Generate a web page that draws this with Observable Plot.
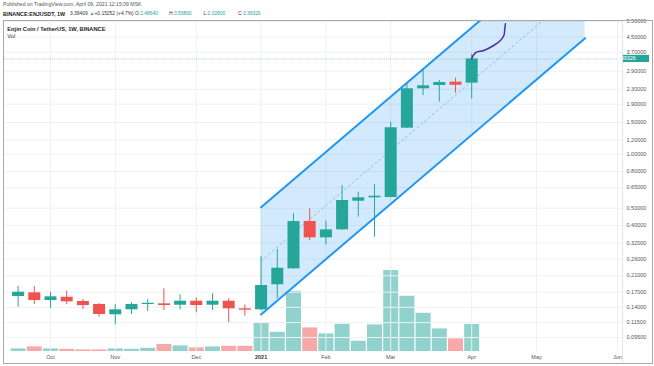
<!DOCTYPE html>
<html><head><meta charset="utf-8">
<script src="https://cdn.jsdelivr.net/npm/d3@7"></script>
<script src="https://cdn.jsdelivr.net/npm/@observablehq/plot@0.6"></script>
<style>
html,body{margin:0;padding:0;background:#fff;}
#wrap{position:relative;width:654px;height:366px;overflow:hidden;font-family:"Liberation Sans",Arial,sans-serif;}
#plots svg{position:absolute;left:0;top:0;}
.t{position:absolute;white-space:nowrap;line-height:1;}
.teal{color:#26a69a}
</style></head><body>
<div id="wrap">
  <div id="plots"></div>
  <div class="t" style="left:3px;top:2.4px;font-size:5.15px;color:#555">Published on TradingView.com, April 09, 2021 12:15:09 MSK</div>
  <div class="t" style="left:3px;top:12px;font-size:5.4px;color:#222;font-weight:bold">BINANCE:ENJUSDT, 1W</div>
  <div class="t" style="left:70px;top:12.2px;font-size:4.9px;color:#333">3.39409</div>
  <div class="t teal" style="left:89.5px;top:12.2px;font-size:4.9px">▲</div>
  <div class="t" style="left:94.5px;top:12.2px;font-size:4.9px;color:#333">+0.15252 (+4.7%)</div>
  <div class="t" style="left:135px;top:12.2px;font-size:4.9px;color:#333">O:<span class="teal">2.48640</span></div>
  <div class="t" style="left:169px;top:12.2px;font-size:4.9px;color:#333">H:<span class="teal">3.59800</span></div>
  <div class="t" style="left:203.5px;top:12.2px;font-size:4.9px;color:#333">L:<span class="teal">2.02800</span></div>
  <div class="t" style="left:238px;top:12.2px;font-size:4.9px;color:#333">C:<span class="teal">3.39326</span></div>
  <div style="position:absolute;left:3px;top:20px;width:648px;height:342px;border:1px solid #a8a8a8"></div>
  <div style="position:absolute;left:622px;top:21px;width:1px;height:342px;background:#e3e3e3"></div>
  <div class="t" style="left:7.3px;top:26.5px;font-size:5.7px;color:#222;font-weight:bold">Enjin Coin / TetherUS, 1W, BINANCE</div>
  <div class="t" style="left:7.3px;top:33.9px;font-size:5.7px;color:#333">Vol</div>
</div>
<script>
const weeks = ["2020-09-21","2020-09-28","2020-10-05","2020-10-12","2020-10-19","2020-10-26","2020-11-02","2020-11-09","2020-11-16","2020-11-23","2020-11-30","2020-12-07","2020-12-14","2020-12-21","2020-12-28","2021-01-04","2021-01-11","2021-01-18","2021-01-25","2021-02-01","2021-02-08","2021-02-15","2021-02-22","2021-03-01","2021-03-08","2021-03-15","2021-03-22","2021-03-29","2021-04-05"];
const open  = [0.1608,0.1686,0.1527,0.1593,0.1508,0.1451,0.1272,0.1356,0.1451,0.1464,0.1438,0.1514,0.1438,0.1514,0.1373,0.1356,0.1869,0.2294,0.4211,0.3416,0.3785,0.5464,0.5709,0.574,1.395,2.313,2.413,2.52,2.4864];
const high  = [0.1828,0.1828,0.1699,0.1721,0.1547,0.1469,0.1445,0.1483,0.1547,0.1775,0.1644,0.1581,0.1665,0.1561,0.1445,0.2687,0.2940,0.4648,0.4957,0.4227,0.6684,0.6133,0.6771,1.506,2.466,2.952,2.573,2.650,3.598];
const low   = [0.1402,0.1451,0.1384,0.1445,0.1361,0.1233,0.1118,0.1277,0.1327,0.1344,0.1356,0.1304,0.1344,0.1147,0.1248,0.1344,0.1561,0.2280,0.3299,0.3122,0.3751,0.4450,0.3442,0.570,1.390,2.122,1.947,2.186,2.028];
const close = [0.1699,0.1527,0.1602,0.1502,0.1432,0.1277,0.1356,0.1451,0.1475,0.1432,0.1514,0.1432,0.1514,0.1373,0.1349,0.1852,0.2312,0.4211,0.3416,0.3785,0.5514,0.5709,0.5826,1.402,2.313,2.404,2.508,2.42,3.39326];
const volume = [13,23,13,11,8,8,13,11,16,35,28,18,23,26,26,143,96,301,118,88,136,51,133,405,276,191,113,63,135];

const yTicks = [5.5,4.5,3.7,2.9,2.3,1.9,1.5,1.2,1.0,0.8,0.65,0.5,0.4,0.32,0.26,0.21,0.17,0.14,0.115,0.095];
const monthDates = ["2020-10-05","2020-11-02","2020-12-07","2021-01-04","2021-02-01","2021-03-01","2021-04-05","2021-05-03","2021-06-07"];
const monthLabels = ["Oct","Nov","Dec","2021","Feb","Mar","Apr","May","Jun"];

const channelDates = ["2021-01-04","2021-05-24"];
const channelLower = [0.1277, 4.429];
const channelMid   = [0.2541, 8.815];
const channelUpper = [0.5058, 17.54];

const pathDates  = ["2021-04-05T00:00:00Z","2021-04-06T14:00:00Z","2021-04-10T05:00:00Z","2021-04-14T12:00:00Z","2021-04-17T10:00:00Z","2021-04-18T22:00:00Z","2021-04-19T07:00:00Z","2021-04-19T14:00:00Z"];
const pathPrices = [3.40, 3.672, 3.782, 4.032, 4.300, 4.585, 4.99, 5.33];

const lastPrice = 3.39326;

const GREEN = "#26a69a", RED = "#ef5350", VGREEN = "#92d2cc", VRED = "#f7a9a7";
const parse = s => new Date(s.length === 10 ? s + "T00:00:00Z" : s);

const candles = weeks.map((w, i) => ({date: parse(w), open: open[i], high: high[i], low: low[i], close: close[i], volume: volume[i], up: close[i] >= open[i]}));
const channel = channelDates.map((d, i) => ({date: parse(d), lower: channelLower[i], mid: channelMid[i], upper: channelUpper[i]}));
const path = pathDates.map((d, i) => ({date: parse(d), price: pathPrices[i]}));
const monthTicks = monthDates.map(parse);
const labelByTime = new Map(monthTicks.map((d, i) => [+d, monthLabels[i]]));
const fmt = d3.format(".5f");

const xDomain = [parse("2020-09-15T03:00:00Z"), parse("2021-06-09T04:00:00Z")];
const common = {width: 654, height: 366, marginLeft: 4, marginRight: 32, marginTop: 21, marginBottom: 15};

const priceChart = Plot.plot({
  ...common,
  style: {background: "transparent", fontFamily: "Liberation Sans, Arial, sans-serif", fontSize: "5.5px", color: "#555", overflow: "visible"},
  x: {type: "utc", domain: xDomain, ticks: monthTicks, tickFormat: d => labelByTime.get(+d), tickSize: 0, tickPadding: 3.5, label: null},
  y: {type: "log", domain: [0.0794, 5.487], axis: null},
  color: {type: "identity"},
  marks: [
    Plot.ruleY(yTicks, {stroke: "#eef0f3"}),
    Plot.ruleX(monthTicks, {stroke: "#eef0f3"}),
    Plot.areaY(channel, {x: "date", y1: "lower", y2: "upper", fill: "#2196f3", fillOpacity: 0.2, clip: true}),
    Plot.line(channel, {x: "date", y: "mid", stroke: "#8dbbe6", strokeWidth: 1, strokeDasharray: "2,3", clip: true}),
    Plot.line(channel, {x: "date", y: "lower", stroke: "#2196f3", strokeWidth: 2, clip: true}),
    Plot.line(channel, {x: "date", y: "upper", stroke: "#2196f3", strokeWidth: 2, clip: true}),
    Plot.ruleY([lastPrice], {stroke: GREEN, strokeOpacity: 0.45, strokeDasharray: "1,1"}),
    Plot.ruleX(candles, {x: "date", y1: "low", y2: "high", stroke: d => d.up ? GREEN : RED, strokeWidth: 1}),
    Plot.ruleX(candles, {x: "date", y1: "open", y2: "close", stroke: d => d.up ? GREEN : RED, strokeWidth: 12}),
    Plot.line(path, {x: "date", y: "price", stroke: "#4b2fa3", strokeWidth: 1.5, curve: "catmull-rom", clip: true}),
    Plot.text(yTicks, {y: d => d, text: d => fmt(d), frameAnchor: "right", textAnchor: "start", dx: 4, fill: "#555", fontSize: 5.5})
  ]
});

const volChart = Plot.plot({
  ...common,
  style: {background: "transparent"},
  x: {type: "utc", domain: xDomain, axis: null},
  y: {domain: [0, 1650], axis: null},
  color: {type: "identity"},
  marks: [
    Plot.ruleX(candles, {x: "date", y1: 0, y2: "volume", stroke: d => d.up ? VGREEN : VRED, strokeWidth: 15})
  ]
});

const host = document.getElementById("plots");
host.appendChild(volChart);
host.appendChild(priceChart);

const svg = d3.select(priceChart);
svg.selectAll("text").filter(function() { return this.textContent === "2021"; }).attr("font-weight", "bold").attr("fill", "#333");
const yy = priceChart.scale("y").apply(lastPrice);
const tag = svg.append("g");
tag.append("rect").attr("x", 622).attr("y", yy - 3.6).attr("width", 27).attr("height", 7.2).attr("fill", GREEN);
tag.append("text").attr("x", 626).attr("y", yy).attr("dy", "0.34em").attr("fill", "#fff").attr("font-size", "5.5px").text(lastPrice.toFixed(5));
</script>
</body></html>
